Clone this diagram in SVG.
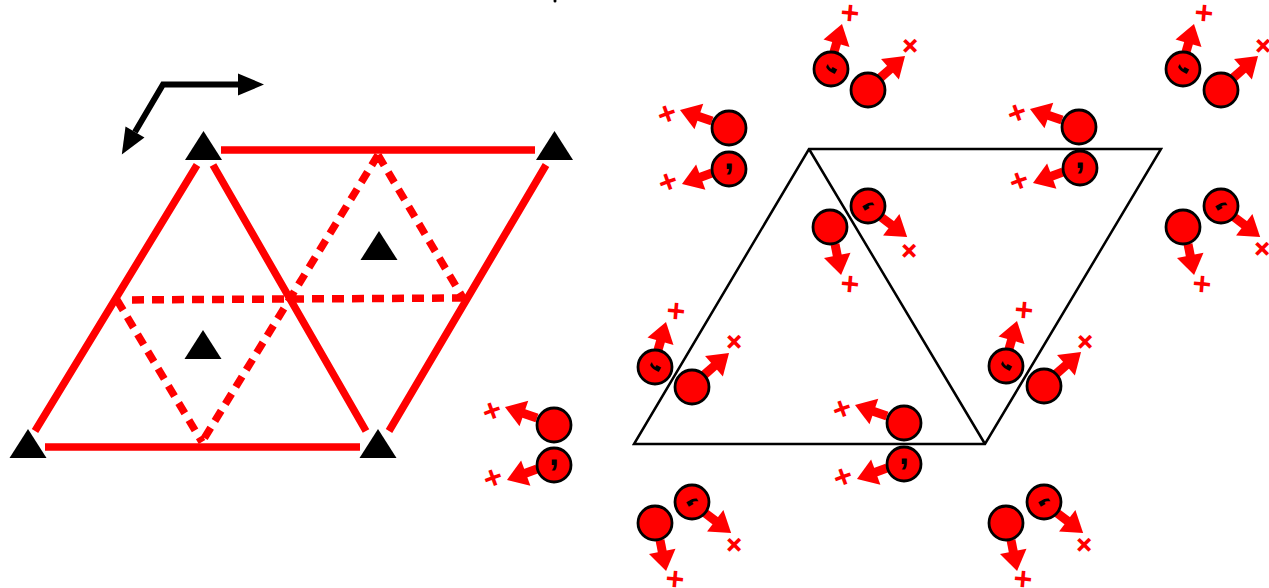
<svg xmlns="http://www.w3.org/2000/svg" width="1269" height="588" viewBox="0 0 1269 588">
<style>
.s{stroke:#f00;stroke-width:7.5;fill:none}
.d{stroke:#f00;stroke-width:7.5;fill:none;stroke-dasharray:12 8;stroke-linejoin:round}
.t{fill:#000}
.b{stroke:#000;stroke-width:2.5;fill:none}
.c{fill:#f00;stroke:#000;stroke-width:2.8}
.a{stroke:#f00;stroke-width:9;fill:none;marker-end:url(#rh)}
.l{fill:#f00;font:bold 32px "Liberation Sans",Arial,sans-serif;text-anchor:middle}
.m{fill:#000;font:bold 36px "Liberation Sans",Arial,sans-serif;text-anchor:middle}
</style>
<defs>
<marker id="rh" markerUnits="userSpaceOnUse" markerWidth="20" markerHeight="27" refX="4" refY="13.500" orient="auto" overflow="visible"><path d="M0 0L20 13.500L0 27z" fill="#f00"/></marker>
<marker id="kh" markerUnits="userSpaceOnUse" markerWidth="26" markerHeight="22" refX="0" refY="11" orient="auto-start-reverse" overflow="visible"><path d="M0 0L26 11L0 22z" fill="#000"/></marker>
<path id="tri" d="M0 -15L18.500 14H-18.500z"/>
</defs>
<rect width="1269" height="588" fill="#fff"/>
<g id="connectors">
<path class="s" d="M221 150H535M45 447H360M35 431L197 165M389 431L546 165M213 165L366 431"/>
<path class="d" d="M132 299.900L465 298M378 155L202 442M378 155L463 298M117 300L202 442"/>
<path d="M135 132L163 84.500H238" fill="none" stroke="#000" stroke-width="6" stroke-linejoin="miter" marker-start="url(#kh)" marker-end="url(#kh)"/>
<path class="b" d="M809 149H1161L985 444H634ZM809 149L985 444"/>
<circle cx="555" cy="1" r="1.500" fill="#000"/>
</g>
<g id="triangles" class="t">
<use id="t1" href="#tri" x="203.500" y="146"/>
<use id="t2" href="#tri" x="554.500" y="146"/>
<use id="t3" href="#tri" x="28" y="444"/>
<use id="t4" href="#tri" x="378" y="444"/>
<use id="t5" href="#tri" x="379" y="246"/>
<use id="t6" href="#tri" x="203" y="345"/>
</g>
<g id="a1" transform="translate(554 425)"><path class="a" d="M-17 -7L-33.900 -12.800"/><circle class="c" r="17"/><text class="l" transform="translate(-62 -14) rotate(-20)" y="10.500">+</text></g>
<g id="a2" transform="translate(554 465)"><path class="a" d="M-17 4L-32 9.500"/><circle class="c" r="17"/><text class="m" y="0">,</text><text class="l" transform="translate(-61 13) rotate(-20)" y="10.500">+</text></g>
<g id="a3" transform="translate(729 128)"><path class="a" d="M-17 -7L-33.900 -12.800"/><circle class="c" r="17"/><text class="l" transform="translate(-62 -14) rotate(-20)" y="10.500">+</text></g>
<g id="a4" transform="translate(729 169)"><path class="a" d="M-17 4L-32 9.500"/><circle class="c" r="17"/><text class="m" y="0">,</text><text class="l" transform="translate(-61 13) rotate(-20)" y="10.500">+</text></g>
<g id="a5" transform="translate(1079 127)"><path class="a" d="M-17 -7L-33.900 -12.800"/><circle class="c" r="17"/><text class="l" transform="translate(-62 -14) rotate(-20)" y="10.500">+</text></g>
<g id="a6" transform="translate(1080 168)"><path class="a" d="M-17 4L-32 9.500"/><circle class="c" r="17"/><text class="m" y="0">,</text><text class="l" transform="translate(-61 13) rotate(-20)" y="10.500">+</text></g>
<g id="a7" transform="translate(904 423)"><path class="a" d="M-17 -7L-33.900 -12.800"/><circle class="c" r="17"/><text class="l" transform="translate(-62 -14) rotate(-20)" y="10.500">+</text></g>
<g id="a8" transform="translate(904 464)"><path class="a" d="M-17 4L-32 9.500"/><circle class="c" r="17"/><text class="m" y="0">,</text><text class="l" transform="translate(-61 13) rotate(-20)" y="10.500">+</text></g>
<g id="b1" transform="translate(831 69)"><path class="a" d="M3 -17L6.600 -29.600"/><circle class="c" r="17"/><text class="m" transform="rotate(120)">,</text><text class="l" transform="translate(19 -56) rotate(5)" y="10.500">+</text></g>
<g id="b2" transform="translate(868 90)"><path class="a" d="M12 -12L25 -23.400"/><circle class="c" r="17"/><text class="l" transform="translate(42 -44) rotate(45)" y="10.500">+</text></g>
<g id="b3" transform="translate(1183 69)"><path class="a" d="M3 -17L6.600 -29.600"/><circle class="c" r="17"/><text class="m" transform="rotate(120)">,</text><text class="l" transform="translate(21 -56) rotate(5)" y="10.500">+</text></g>
<g id="b4" transform="translate(1221 90)"><path class="a" d="M12 -12L25 -23.400"/><circle class="c" r="17"/><text class="l" transform="translate(42 -44) rotate(45)" y="10.500">+</text></g>
<g id="b5" transform="translate(655 367)"><path class="a" d="M3 -17L6.600 -29.600"/><circle class="c" r="17"/><text class="m" transform="rotate(120)">,</text><text class="l" transform="translate(21 -56) rotate(5)" y="10.500">+</text></g>
<g id="b6" transform="translate(692 387)"><path class="a" d="M12 -12L25 -23.400"/><circle class="c" r="17"/><text class="l" transform="translate(42 -45) rotate(45)" y="10.500">+</text></g>
<g id="b7" transform="translate(1006 366)"><path class="a" d="M3 -17L6.600 -29.600"/><circle class="c" r="17"/><text class="m" transform="rotate(120)">,</text><text class="l" transform="translate(18 -56) rotate(5)" y="10.500">+</text></g>
<g id="b8" transform="translate(1044 386)"><path class="a" d="M12 -12L25 -23.400"/><circle class="c" r="17"/><text class="l" transform="translate(41 -44) rotate(45)" y="10.500">+</text></g>
<g id="c1" transform="translate(655 523)"><path class="a" d="M5 17L8 32.300"/><circle class="c" r="17"/><text class="l" transform="translate(20 56) rotate(5)" y="10.500">+</text></g>
<g id="c2" transform="translate(692 502)"><path class="a" d="M13 11L26.400 21.200"/><circle class="c" r="17"/><text class="m" transform="rotate(240)">,</text><text class="l" transform="translate(42 43) rotate(45)" y="10.500">+</text></g>
<g id="c3" transform="translate(1006 523)"><path class="a" d="M5 17L8 32.300"/><circle class="c" r="17"/><text class="l" transform="translate(17 56) rotate(5)" y="10.500">+</text></g>
<g id="c4" transform="translate(1044 502)"><path class="a" d="M13 11L26.400 21.200"/><circle class="c" r="17"/><text class="m" transform="rotate(240)">,</text><text class="l" transform="translate(40 43) rotate(45)" y="10.500">+</text></g>
<g id="c5" transform="translate(830 227)"><path class="a" d="M5 17L8 32.300"/><circle class="c" r="17"/><text class="l" transform="translate(20 57) rotate(5)" y="10.500">+</text></g>
<g id="c6" transform="translate(868 206)"><path class="a" d="M13 11L26.400 21.200"/><circle class="c" r="17"/><text class="m" transform="rotate(240)">,</text><text class="l" transform="translate(41 45) rotate(45)" y="10.500">+</text></g>
<g id="c7" transform="translate(1183 227)"><path class="a" d="M5 17L8 32.300"/><circle class="c" r="17"/><text class="l" transform="translate(19 57) rotate(5)" y="10.500">+</text></g>
<g id="c8" transform="translate(1221 206)"><path class="a" d="M13 11L26.400 21.200"/><circle class="c" r="17"/><text class="m" transform="rotate(240)">,</text><text class="l" transform="translate(41 43) rotate(45)" y="10.500">+</text></g>
</svg>
